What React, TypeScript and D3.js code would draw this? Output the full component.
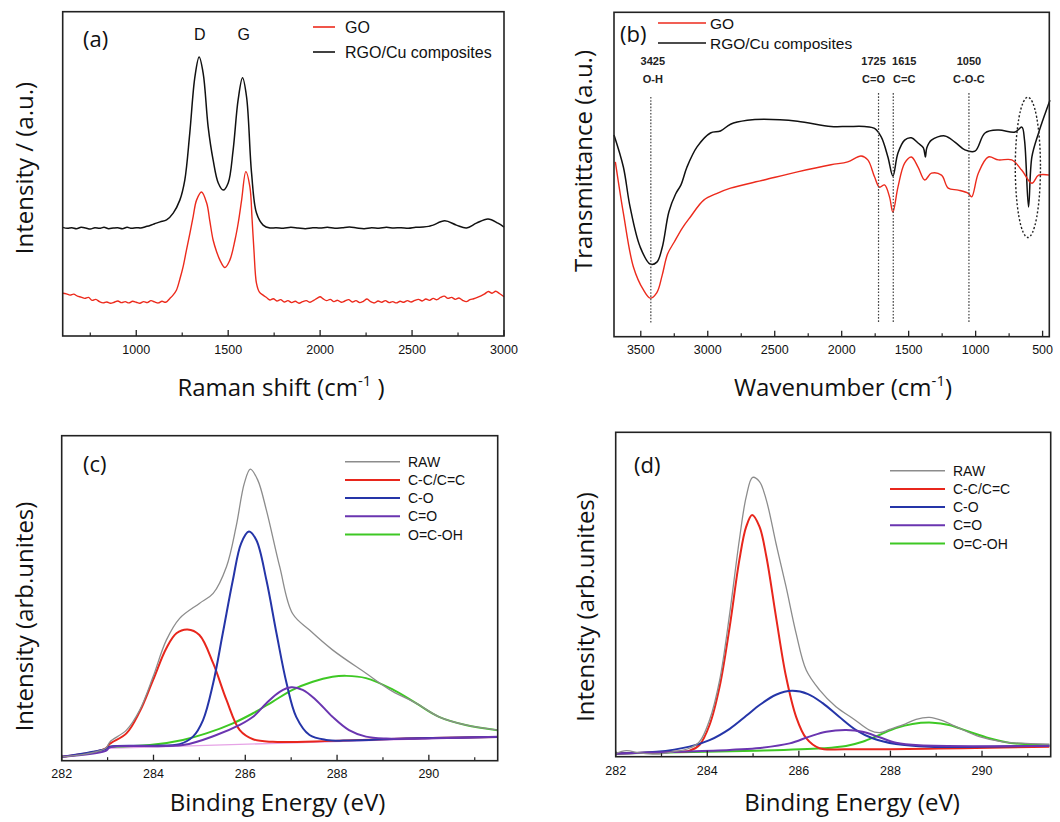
import React from 'react';
import * as d3 from 'd3';

type P = [number, number];

// ---------- (a) Raman ----------
const ramanTicks = [1000, 1500, 2000, 2500, 3000];
const ramanMinor = [750, 1250, 1750, 2250, 2750];
const ramanLegend = ['GO', 'RGO/Cu composites'];

const ramanRGO: P[] = [
  [600, 33.5], [625, 33.2], [650, 33.4], [675, 33.1], [700, 33.5], [725, 33.3], [750, 33.0], [775, 33.4],
  [800, 33.2], [825, 33.5], [850, 33.1], [875, 33.3], [900, 33.4], [925, 33.1], [950, 33.5], [975, 33.2],
  [1000, 33.4], [1025, 33.3], [1050, 33.7], [1075, 34.1], [1100, 34.6], [1130, 35.2], [1165, 35.8],
  [1201, 37.9], [1237, 41.9], [1264, 48.1], [1291, 62.5], [1319, 79.9], [1342, 86.0], [1364, 81.0],
  [1391, 64.5], [1418, 54.3], [1446, 47.2], [1473, 45.0], [1500, 47.2], [1527, 57.4], [1554, 72.8],
  [1578, 79.6], [1600, 73.7], [1627, 50.3], [1654, 37.9], [1690, 34.2], [1727, 33.3], [1760, 33.4],
  [1800, 33.2], [1840, 33.5], [1880, 33.3], [1920, 33.1], [1960, 33.4], [2000, 33.3], [2040, 33.5],
  [2080, 33.2], [2120, 33.4], [2160, 33.6], [2200, 33.3], [2240, 33.1], [2280, 33.4], [2320, 33.2],
  [2360, 33.5], [2400, 33.3], [2440, 33.4], [2480, 33.2], [2520, 33.5], [2560, 33.6], [2590, 33.8],
  [2614, 34.2], [2678, 35.5], [2741, 34.2], [2796, 33.3], [2850, 34.8], [2913, 36.1], [2967, 34.8], [3000, 33.6],
];

const ramanGO: P[] = [
  [600, 13.2], [620, 13.0], [640, 12.6], [660, 12.9], [680, 12.3], [700, 12.0], [720, 11.6], [740, 11.9],
  [760, 11.0], [780, 11.3], [800, 10.6], [820, 10.2], [840, 10.5], [860, 10.1], [880, 10.4], [900, 10.8],
  [920, 10.3], [940, 10.6], [960, 10.2], [980, 10.7], [1000, 10.4], [1020, 10.1], [1040, 10.6], [1060, 10.3],
  [1080, 10.9], [1100, 10.5], [1120, 10.2], [1140, 10.7], [1160, 10.4], [1183, 11.6], [1200, 12.6],
  [1219, 14.2], [1237, 17.5], [1255, 21.4], [1273, 26.5], [1292, 31.7], [1310, 37.0], [1328, 41.9],
  [1355, 44.4], [1383, 41.0], [1400, 35.5], [1418, 29.6], [1437, 26.0], [1455, 23.4], [1482, 21.1],
  [1509, 23.4], [1537, 29.6], [1555, 35.0], [1573, 41.9], [1596, 50.7], [1618, 46.0], [1630, 36.0],
  [1640, 26.5], [1654, 16.2], [1670, 13.5], [1690, 12.6], [1710, 11.8], [1727, 11.1], [1745, 11.5],
  [1765, 10.8], [1785, 11.2], [1805, 10.5], [1825, 10.9], [1845, 10.3], [1865, 10.7], [1885, 10.1],
  [1905, 10.6], [1925, 10.9], [1945, 10.4], [1965, 11.0], [1985, 11.7], [2000, 12.1], [2015, 11.5],
  [2035, 10.9], [2055, 11.3], [2075, 10.6], [2095, 11.0], [2115, 10.4], [2135, 10.8], [2155, 11.2],
  [2175, 10.5], [2195, 10.9], [2215, 10.3], [2235, 10.7], [2255, 11.4], [2275, 10.6], [2295, 10.2],
  [2315, 10.8], [2335, 10.4], [2355, 10.9], [2375, 10.3], [2395, 10.6], [2415, 10.2], [2435, 10.7],
  [2455, 10.4], [2475, 10.9], [2495, 10.5], [2515, 11.0], [2535, 11.3], [2555, 10.8], [2575, 11.4],
  [2595, 11.0], [2615, 11.6], [2635, 11.2], [2655, 11.9], [2675, 12.3], [2695, 11.6], [2715, 11.9],
  [2735, 11.3], [2755, 11.7], [2775, 11.0], [2795, 10.6], [2815, 11.2], [2835, 11.5], [2855, 11.9],
  [2875, 12.4], [2895, 13.0], [2915, 13.7], [2935, 13.2], [2955, 13.8], [2975, 13.1], [3000, 12.1],
];

// ---------- (b) FTIR ----------
const ftirTicks = [3500, 3000, 2500, 2000, 1500, 1000, 500];
const ftirMinor = [3250, 2750, 2250, 1750, 1250, 750];
const ftirPeaks = [3425, 1725, 1615, 1050];
const ftirPeakNames = ['O-H', 'C=O', 'C=C', 'C-O-C'];

const ftirRGO: P[] = [
  [3700, 62.2], [3630, 52.3], [3580, 40.0], [3505, 27.7], [3430, 22.4], [3380, 23.0], [3340, 27.5],
  [3290, 38.5], [3240, 44.0], [3200, 46.8], [3155, 52.3], [3080, 58.5], [2980, 62.8], [2905, 63.4],
  [2830, 65.5], [2705, 66.7], [2580, 67.0], [2330, 66.4], [2080, 64.8], [1955, 64.8], [1830, 64.8],
  [1755, 64.2], [1705, 61.6], [1655, 55.4], [1618, 49.5], [1580, 56.6], [1530, 60.6], [1480, 61.3],
  [1430, 59.7], [1390, 58.2], [1375, 55.4], [1365, 58.2], [1330, 60.6], [1230, 61.9], [1155, 60.0],
  [1080, 57.6], [1005, 57.2], [930, 62.8], [830, 63.7], [705, 63.1], [655, 64.6], [635, 60.6],
  [605, 40.0], [580, 55.4], [530, 62.8], [480, 68.9], [445, 72.9],
];

const ftirGO: P[] = [
  [3690, 53.9], [3630, 38.1], [3555, 21.5], [3480, 14.4], [3430, 11.9], [3380, 13.6], [3340, 19.0],
  [3300, 25.5], [3250, 29.2], [3190, 33.5], [3130, 36.9], [3030, 42.1], [2930, 44.2], [2830, 45.8],
  [2580, 48.3], [2330, 50.8], [2080, 53.0], [1955, 53.9], [1855, 55.7], [1805, 54.5], [1755, 49.3],
  [1718, 46.1], [1680, 46.8], [1643, 43.1], [1618, 38.4], [1580, 46.1], [1530, 53.5], [1480, 55.4],
  [1430, 52.3], [1380, 48.3], [1330, 50.4], [1255, 49.8], [1205, 45.8], [1130, 45.2], [1055, 44.2],
  [1030, 43.1], [980, 50.4], [905, 55.4], [830, 54.5], [730, 54.5], [655, 51.3], [580, 47.3],
  [530, 49.8], [445, 49.8],
];

// ---------- (c), (d) XPS ----------
const xpsTicks = [282, 284, 286, 288, 290];
const xpsMinor = [283, 285, 287, 289, 291];
const xpsNames = ['RAW', 'C-C/C=C', 'C-O', 'C=O', 'O=C-OH'];
const xpsColors = ['#8c8c8c', '#e8261c', '#2535a8', '#6a35b0', '#3ec824'];

const goRaw: P[] = [
  [282.01, 1.2], [282.54, 2.1], [282.96, 3.8], [283.05, 5.8], [283.41, 9.4], [283.7, 15.6], [283.99, 25.8],
  [284.28, 37.1], [284.57, 43.8], [285.0, 48.4], [285.3, 51.5], [285.59, 59.7], [285.8, 72.0], [285.98, 85.4],
  [286.11, 89.7], [286.27, 86.4], [286.46, 77.1], [286.75, 59.7], [287.03, 45.3], [287.4, 40.2],
  [287.9, 34.1], [288.63, 26.9], [289.2, 21.4], [289.72, 17.7], [290.22, 13.5], [290.8, 11.0], [291.5, 9.4],
];
const goCC: P[] = [
  [282.01, 1.2], [282.96, 3.8], [283.05, 5.2], [283.41, 8.4], [283.7, 15.1], [283.99, 24.8], [284.28, 34.6],
  [284.5, 39.2], [284.74, 40.4], [285.0, 38.7], [285.3, 30.0], [285.59, 18.7], [285.88, 9.4], [286.17, 6.6],
  [286.6, 5.8], [287.9, 6.1], [289.5, 6.8], [291.5, 7.3],
];
const goCO: P[] = [
  [282.01, 1.2], [282.96, 3.6], [283.05, 4.3], [284.0, 4.6], [284.57, 5.1], [284.86, 7.4], [285.08, 12.5],
  [285.3, 23.8], [285.51, 39.2], [285.73, 55.6], [285.91, 66.9], [286.08, 70.5], [286.24, 67.9],
  [286.46, 55.6], [286.68, 39.2], [286.9, 23.8], [287.11, 13.5], [287.4, 7.9], [287.76, 6.4], [288.26, 6.2],
  [289.5, 6.8], [291.5, 7.3],
];
const goCdO: P[] = [
  [282.01, 1.2], [282.96, 3.0], [283.05, 4.1], [284.64, 4.8], [285.37, 7.9], [285.88, 11.0], [286.17, 13.5],
  [286.46, 17.7], [286.75, 21.2], [287.0, 22.6], [287.25, 21.8], [287.54, 18.7], [287.9, 13.5],
  [288.26, 9.4], [288.63, 7.4], [289.07, 6.8], [290.1, 6.9], [291.5, 7.4],
];
const goCOOH: P[] = [
  [283.05, 4.3], [283.92, 4.8], [284.64, 6.4], [285.15, 8.4], [285.73, 11.5], [286.17, 14.6], [286.6, 18.2],
  [287.03, 21.8], [287.47, 24.3], [287.9, 25.8], [288.2, 26.1], [288.63, 25.4], [289.2, 22.0],
  [289.72, 17.7], [290.22, 13.5], [290.8, 11.0], [291.5, 9.4],
];
const goBase: P[] = [[283.0, 3.8], [291.5, 7.4]];

const rgoRaw: P[] = [
  [282.0, 1.0], [282.23, 1.85], [282.52, 1.2], [282.89, 0.8], [283.25, 1.5], [283.61, 2.6], [283.83, 4.6],
  [284.05, 11.3], [284.27, 23.6], [284.49, 44.2], [284.7, 66.8], [284.85, 80.1], [284.99, 86.1],
  [285.14, 84.8], [285.29, 79.1], [285.5, 65.8], [285.72, 52.4], [285.94, 38.0], [286.16, 26.7],
  [286.45, 20.6], [286.81, 15.4], [287.18, 11.8], [287.54, 8.2], [287.76, 7.4], [287.98, 8.4],
  [288.27, 9.8], [288.56, 11.5], [288.85, 12.1], [289.14, 11.1], [289.5, 8.8], [289.94, 6.2],
  [290.45, 4.6], [290.96, 4.1], [291.47, 3.9],
];
const rgoCC: P[] = [
  [282.0, 1.0], [283.25, 1.5], [283.61, 1.85], [283.83, 3.6], [284.05, 9.8], [284.27, 21.6], [284.49, 40.1],
  [284.7, 60.6], [284.85, 70.9], [284.98, 74.5], [285.14, 70.9], [285.29, 61.7], [285.5, 43.2],
  [285.72, 24.7], [285.94, 12.3], [286.16, 5.7], [286.45, 2.6], [287.03, 2.3], [291.47, 3.1],
];
const rgoCO: P[] = [
  [282.0, 1.0], [282.89, 1.5], [283.61, 3.1], [284.05, 5.1], [284.49, 8.6], [284.85, 12.6], [285.15, 16.0],
  [285.5, 19.1], [285.85, 20.3], [286.2, 19.3], [286.52, 16.5], [286.88, 12.3], [287.25, 8.2],
  [287.61, 5.7], [288.12, 3.9], [288.85, 3.1], [291.47, 3.4],
];
const rgoCdO: P[] = [
  [282.0, 1.0], [284.49, 2.1], [285.07, 2.6], [285.8, 4.1], [286.23, 6.2], [286.6, 7.7], [287.03, 8.2],
  [287.39, 7.7], [287.76, 6.0], [288.12, 4.3], [288.63, 3.5], [291.47, 3.4],
];
const rgoCOOH: P[] = [
  [282.0, 1.0], [285.07, 1.85], [286.52, 2.6], [287.03, 3.3], [287.39, 4.6], [287.76, 6.7], [288.12, 8.8],
  [288.48, 10.1], [288.92, 10.5], [289.28, 9.8], [289.72, 7.7], [290.16, 5.7], [290.59, 4.3],
  [291.03, 3.8], [291.47, 3.5],
];

const RED = '#ec2a1c';
const BLACK = '#111';
const TITLE_FONT = "'Open Sans', 'Noto Sans', sans-serif";
const LABEL_FONT = "'Liberation Sans', Arial, sans-serif";

type Box = { x0: number; x1: number; y0: number; y1: number };

function curve(x: d3.ScaleLinear<number, number>, y: d3.ScaleLinear<number, number>, pts: P[]) {
  return d3.line<P>()
    .x(d => x(d[0]))
    .y(d => y(d[1]))
    .curve(d3.curveCatmullRom.alpha(0.5))(pts) || '';
}

function Axis({ box, x, ticks, minor, labelY }: { box: Box; x: d3.ScaleLinear<number, number>; ticks: number[]; minor: number[]; labelY: number }) {
  return (
    <g>
      <rect x={box.x0} y={box.y0} width={box.x1 - box.x0} height={box.y1 - box.y0} fill="none" stroke="#222" strokeWidth={1.6} />
      {ticks.map(t => (
        <g key={'t' + t}>
          <line x1={x(t)} x2={x(t)} y1={box.y1} y2={box.y1 - 6} stroke="#222" strokeWidth={1.3} />
          <text x={x(t)} y={labelY} textAnchor="middle" dominantBaseline="central" fontFamily={LABEL_FONT} fontSize={12.5} fill="#111">{t}</text>
        </g>
      ))}
      {minor.map(t => (
        <line key={'m' + t} x1={x(t)} x2={x(t)} y1={box.y1} y2={box.y1 - 3.5} stroke="#222" strokeWidth={1.2} />
      ))}
    </g>
  );
}

function XpsPanel({ box, series, legendX, legendY, tag, tagX, tagY, labelY, base }: {
  box: Box; series: P[][]; legendX: number; legendY: number; tag: string; tagX: number; tagY: number; labelY: number; base?: P[];
}) {
  const x = d3.scaleLinear().domain([282, 291.5]).range([box.x0, box.x1]);
  const y = d3.scaleLinear().domain([0, 100]).range([box.y1, box.y0]);
  // drawing order: O=C-OH, C-C, C-O, C=O, RAW on top
  const order = [4, 1, 2, 3, 0];
  return (
    <g>
      {base && <path d={curve(x, y, base)} fill="none" stroke="#e6a3e6" strokeWidth={1.4} />}
      {order.map(i => (
        <path key={i} d={curve(x, y, series[i])} fill="none" stroke={xpsColors[i]} strokeWidth={i === 0 ? 1.3 : 2} />
      ))}
      <Axis box={box} x={x} ticks={xpsTicks} minor={xpsMinor} labelY={labelY} />
      <text x={tagX} y={tagY} fontFamily={TITLE_FONT} fontSize={22} fill="#111">{tag}</text>
      {xpsNames.map((n, i) => (
        <g key={n}>
          <line x1={legendX} x2={legendX + 55} y1={legendY + i * 18.2} y2={legendY + i * 18.2} stroke={xpsColors[i]} strokeWidth={i === 0 ? 1.4 : 2} />
          <text x={legendX + 63} y={legendY + i * 18.2} dominantBaseline="central" fontFamily={LABEL_FONT} fontSize={14} fill="#111">{n}</text>
        </g>
      ))}
    </g>
  );
}

export default function App() {
  const boxA: Box = { x0: 62.7, x1: 504, y0: 11.7, y1: 336 };
  const boxB: Box = { x0: 614, x1: 1049.3, y0: 12.3, y1: 336.7 };
  const boxC: Box = { x0: 61.7, x1: 497.7, y0: 435.7, y1: 760.7 };
  const boxD: Box = { x0: 615.7, x1: 1050.7, y0: 432.3, y1: 756.7 };

  const xA = d3.scaleLinear().domain([600, 3000]).range([boxA.x0, boxA.x1]);
  const yA = d3.scaleLinear().domain([0, 100]).range([boxA.y1, boxA.y0]);
  const xB = d3.scaleLinear().domain([3700, 450]).range([boxB.x0, boxB.x1]);
  const yB = d3.scaleLinear().domain([0, 100]).range([boxB.y1, boxB.y0]);

  const peakLabelDx = [2, -5, 11, 0];
  const ellC = 610;

  return (
    <svg width={1060} height={822} style={{ position: 'absolute', left: 0, top: 0, background: '#fff' }}>
      {/* (a) */}
      <path d={curve(xA, yA, ramanRGO)} fill="none" stroke={BLACK} strokeWidth={1.5} />
      <path d={curve(xA, yA, ramanGO)} fill="none" stroke={RED} strokeWidth={1.4} />
      <Axis box={boxA} x={xA} ticks={ramanTicks} minor={ramanMinor} labelY={350} />
      <text x={83} y={47} fontFamily={TITLE_FONT} fontSize={22} fill="#111">(a)</text>
      <text x={xA(1345)} y={34} textAnchor="middle" dominantBaseline="central" fontFamily={LABEL_FONT} fontSize={16} fill="#111">D</text>
      <text x={xA(1585)} y={34} textAnchor="middle" dominantBaseline="central" fontFamily={LABEL_FONT} fontSize={16} fill="#111">G</text>
      {ramanLegend.map((n, i) => (
        <g key={n}>
          <line x1={313} x2={335} y1={27 + i * 25} y2={27 + i * 25} stroke={i === 0 ? RED : BLACK} strokeWidth={1.6} />
          <text x={345} y={27 + i * 25} dominantBaseline="central" fontFamily={LABEL_FONT} fontSize={16} fill="#111">{n}</text>
        </g>
      ))}
      <text x={281} y={396} textAnchor="middle" fontFamily={TITLE_FONT} fontSize={24} fill="#111">
        Raman shift (cm<tspan dy={-10} fontSize={15}>-1</tspan><tspan dy={10}> )</tspan>
      </text>
      <text transform="translate(33,168) rotate(-90)" textAnchor="middle" fontFamily={TITLE_FONT} fontSize={24} fill="#111">Intensity / (a.u.)</text>

      {/* (b) */}
      <path d={curve(xB, yB, ftirRGO)} fill="none" stroke={BLACK} strokeWidth={1.5} />
      <path d={curve(xB, yB, ftirGO)} fill="none" stroke={RED} strokeWidth={1.4} />
      {ftirPeaks.map((p, i) => (
        <g key={p}>
          <line x1={xB(p)} x2={xB(p)} y1={yB(i === 0 ? 73.9 : 75.1)} y2={yB(4.2)} stroke="#444" strokeWidth={1.2} strokeDasharray="1.6 1.6" />
          <text x={xB(p) + peakLabelDx[i]} y={61} textAnchor="middle" dominantBaseline="central" fontFamily={LABEL_FONT} fontWeight="bold" fontSize={11} fill="#222">{p}</text>
          <text x={xB(p) + peakLabelDx[i]} y={79} textAnchor="middle" dominantBaseline="central" fontFamily={LABEL_FONT} fontWeight="bold" fontSize={11} fill="#222">{ftirPeakNames[i]}</text>
        </g>
      ))}
      <ellipse cx={xB(ellC)} cy={yB(52.2)} rx={Math.abs(xB(ellC - 94) - xB(ellC))} ry={Math.abs(yB(52.2 + 21.6) - yB(52.2))}
        fill="none" stroke="#222" strokeWidth={1.4} strokeDasharray="2 2" />
      <Axis box={boxB} x={xB} ticks={ftirTicks} minor={ftirMinor} labelY={350} />
      <text x={620} y={42} fontFamily={TITLE_FONT} fontSize={22} fill="#111">(b)</text>
      {ramanLegend.map((n, i) => (
        <g key={n}>
          <line x1={658} x2={706} y1={23 + i * 20} y2={23 + i * 20} stroke={i === 0 ? RED : BLACK} strokeWidth={1.6} />
          <text x={710} y={23 + i * 20} dominantBaseline="central" fontFamily={LABEL_FONT} fontSize={15.5} fill="#111">{n}</text>
        </g>
      ))}
      <text x={843} y={396} textAnchor="middle" fontFamily={TITLE_FONT} fontSize={24} fill="#111">
        Wavenumber (cm<tspan dy={-10} fontSize={15}>-1</tspan><tspan dy={10}>)</tspan>
      </text>
      <text transform="translate(592,161) rotate(-90)" textAnchor="middle" fontFamily={TITLE_FONT} fontSize={24} fill="#111">Transmittance (a.u.)</text>

      {/* (c) */}
      <XpsPanel box={boxC} series={[goRaw, goCC, goCO, goCdO, goCOOH]} legendX={345} legendY={461.7}
        tag="(c)" tagX={83} tagY={472} labelY={774} base={goBase} />
      <text x={277.5} y={811} textAnchor="middle" fontFamily={TITLE_FONT} fontSize={24} fill="#111">Binding Energy (eV)</text>
      <text transform="translate(33,616.5) rotate(-90)" textAnchor="middle" fontFamily={TITLE_FONT} fontSize={24} fill="#111">Intensity (arb.unites)</text>

      {/* (d) */}
      <XpsPanel box={boxD} series={[rgoRaw, rgoCC, rgoCO, rgoCdO, rgoCOOH]} legendX={890} legendY={470.7}
        tag="(d)" tagX={634} tagY={473} labelY={770.7} />
      <text x={852} y={811} textAnchor="middle" fontFamily={TITLE_FONT} fontSize={24} fill="#111">Binding Energy (eV)</text>
      <text transform="translate(594,607) rotate(-90)" textAnchor="middle" fontFamily={TITLE_FONT} fontSize={24} fill="#111">Intensity (arb.unites)</text>
    </svg>
  );
}
